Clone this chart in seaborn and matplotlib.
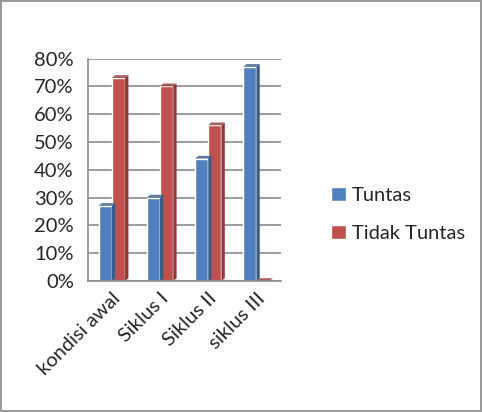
import matplotlib
matplotlib.use("Agg")
import matplotlib.pyplot as plt
import seaborn as sns
import pandas as pd
from matplotlib.patches import Polygon

categories = ["kondisi awal", "Siklus I", "Siklus II", "siklus III"]
tuntas = [27, 30, 44, 77]
tidak_tuntas = [73, 70, 56, 0]
series_names = ["Tuntas", "Tidak Tuntas"]
yticks = [0, 10, 20, 30, 40, 50, 60, 70, 80]

df = pd.DataFrame({
    "kategori": categories * 2,
    "nilai": tuntas + tidak_tuntas,
    "seri": [series_names[0]] * 4 + [series_names[1]] * 4,
})

sns.set_theme(style="white")
plt.rcParams["font.family"] = ["Lato", "DejaVu Sans"]

fig = plt.figure(figsize=(4.82, 4.12), dpi=100)
fig.patch.set_edgecolor("#9a9a9a")
fig.patch.set_linewidth(1.5)
ax = fig.add_axes([0.182, 0.318, 0.40, 0.54])

colors = ["#4f81bd", "#c0504d"]
side_colors = ["#385d8a", "#8c3836"]
sns.barplot(data=df, x="kategori", y="nilai", hue="seri", palette=colors,
            width=0.55, ax=ax, legend=True, saturation=1)

fs = 14.5
ax.set_ylim(0, 80)
ax.set_yticks(yticks)
ax.set_yticklabels([f"{v}%" for v in yticks], fontsize=fs)
ax.set_xlim(-0.5, 3.5)
ax.yaxis.grid(True, color="#8c8c8c", linewidth=1.2)
ax.set_axisbelow(True)
ax.set_xlabel("")
ax.set_ylabel("")
ax.tick_params(axis="x", labelsize=fs)
ax.tick_params(axis="y", length=0, pad=10)
for lbl in ax.get_xticklabels():
    lbl.set_rotation(45)
    lbl.set_ha("right")
    lbl.set_rotation_mode("anchor")
ax.set_xticks([-0.5, 0.5, 1.5, 2.5, 3.5], minor=True)
ax.tick_params(axis="x", which="major", length=0, pad=6)
ax.tick_params(axis="x", which="minor", length=5, color="#8c8c8c", width=1.2)
for s in ["top", "right"]:
    ax.spines[s].set_visible(False)
for s in ["left", "bottom"]:
    ax.spines[s].set_color("#8c8c8c")
    ax.spines[s].set_linewidth(1.2)

# pseudo-3D side faces derived from bar geometry
for i, cont in enumerate(ax.containers):
    for bar in cont:
        x0 = bar.get_x() + bar.get_width()
        h = bar.get_height()
        dx = bar.get_width() * 0.25
        dy = 1.0
        side = Polygon([(x0, 0), (x0 + dx, dy), (x0 + dx, h + dy), (x0, h)],
                       closed=True, facecolor=side_colors[i], edgecolor="none")
        ax.add_patch(side)
        top = Polygon([(bar.get_x(), h), (bar.get_x() + dx, h + dy),
                       (x0 + dx, h + dy), (x0, h)],
                      closed=True, facecolor=side_colors[i], edgecolor="none", alpha=0.8)
        ax.add_patch(top)

leg = ax.legend(loc="center left", bbox_to_anchor=(1.17, 0.30), frameon=False,
                fontsize=fs, handlelength=0.7, handleheight=0.7,
                handletextpad=0.3, labelspacing=1.05)

fig.savefig("out.png", dpi=100, edgecolor=fig.get_edgecolor())
